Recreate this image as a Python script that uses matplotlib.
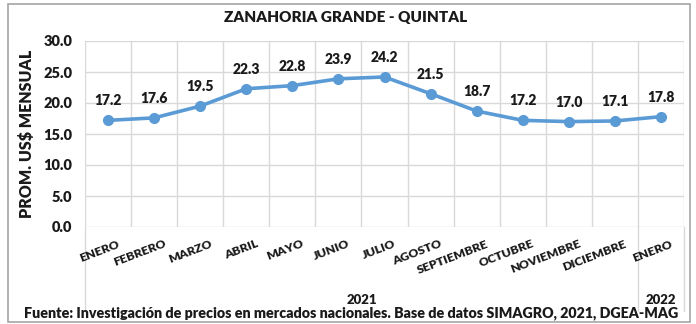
import matplotlib
matplotlib.use("Agg")
import matplotlib.pyplot as plt
from matplotlib.lines import Line2D
from matplotlib.patches import Rectangle

plt.rcParams['font.family'] = ['Lato', 'DejaVu Sans']

months = ["ENERO", "FEBRERO", "MARZO", "ABRIL", "MAYO", "JUNIO", "JULIO",
          "AGOSTO", "SEPTIEMBRE", "OCTUBRE", "NOVIEMBRE", "DICIEMBRE", "ENERO"]
prices = [17.2, 17.6, 19.5, 22.3, 22.8, 23.9, 24.2, 21.5, 18.7, 17.2, 17.0, 17.1, 17.8]
years = ["2021", "2022"]
year_spans = [(0, 11), (12, 12)]
title = "ZANAHORIA GRANDE - QUINTAL"
ylabel = "PROM. US$ MENSUAL"
source = "Fuente: Investigación de precios en mercados nacionales. Base de datos SIMAGRO, 2021, DGEA-MAG"

W, H = 696, 324
fig = plt.figure(figsize=(W / 100, H / 100), dpi=100)
ax = fig.add_axes([85 / W, 1 - 227 / H, (684 - 85) / W, (227 - 41) / H])

grid_c = "#D9D9D9"
line_c = "#5B9BD5"
text_c = "#1a1a1a"
heavy = "heavy"

x = list(range(len(prices)))
ax.plot(x, prices, color=line_c, lw=2.6, marker="o", ms=7, zorder=3,
        solid_capstyle="round")
for xi, v in zip(x, prices):
    ax.annotate(f"{v:.1f}", (xi, v), xytext=(0, 14), textcoords="offset points",
                ha="center", va="center", fontsize=10, fontweight=heavy,
                color=text_c)

ax.set_xlim(-0.5, len(prices) - 0.5)
ax.set_ylim(0, 30)
yt = [0, 5, 10, 15, 20, 25, 30]
ax.set_yticks(yt)
ax.set_yticklabels([f"{t:.1f}" for t in yt], fontsize=10.5, fontweight=heavy,
                   color=text_c)
ax.tick_params(axis="y", length=0, pad=9)
ax.tick_params(axis="x", length=0)
ax.set_xticks([])
ax.grid(axis="y", color=grid_c, lw=1)
for b in range(len(prices) + 1):
    ax.axvline(b - 0.5, color=grid_c, lw=1, zorder=0)
for s in ax.spines.values():
    s.set_visible(False)
ax.set_axisbelow(True)

# Rotated month labels
for xi, m in zip(x, months):
    ax.text(xi + 0.2, -0.06, m, transform=ax.get_xaxis_transform(),
            rotation=21, rotation_mode="anchor", ha="right", va="top",
            fontsize=8.8, fontweight=heavy, color=text_c)

# Year group labels and separators
for yr, (a, b) in zip(years, year_spans):
    ax.text((a + b) / 2, -0.36, yr,
            transform=ax.get_xaxis_transform(), ha="center", va="top",
            fontsize=9.5, fontweight=heavy, color=text_c)
for bx in [-0.5, 11.5, 12.5]:
    ax.add_line(Line2D([bx, bx], [0, -0.45], transform=ax.get_xaxis_transform(),
                       color=grid_c, lw=1, clip_on=False))

ax.set_ylabel(ylabel, fontsize=11.5, fontweight=heavy, labelpad=6, color=text_c)

fig.text(346 / W, 1 - 18 / H, title, ha="center", va="center",
         fontsize=11, fontweight=heavy, color=text_c)
fig.text(351 / W, 1 - 313 / H, source, ha="center", va="center",
         fontsize=10.3, fontweight=heavy, color=text_c)

# Outer frame
fig.patches.append(Rectangle((8 / W, 1 - 322 / H), (690 - 8) / W, (322 - 4) / H,
                             transform=fig.transFigure, fill=False,
                             edgecolor="#A6A6A6", lw=1.2))

fig.savefig("out.png", dpi=100)
